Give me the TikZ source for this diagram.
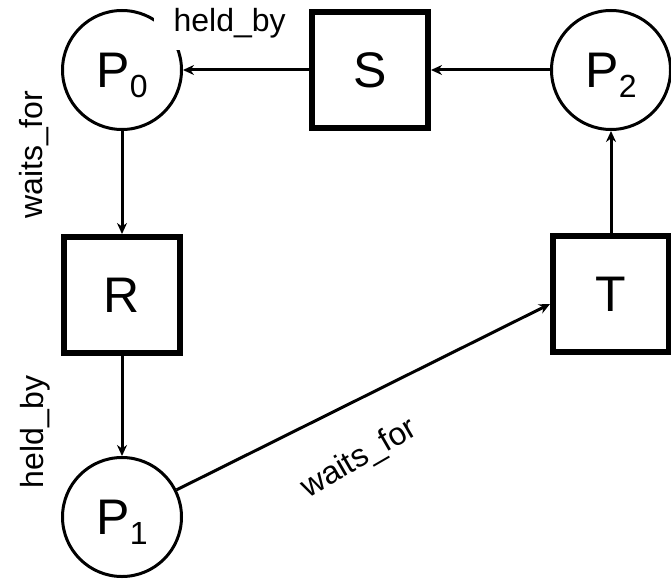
\documentclass[tikz,border=0pt]{standalone}
\usepackage{fontspec}
\setmainfont{Liberation Sans}
\usetikzlibrary{positioning, arrows.meta}

\newcommand{\procname}[1]{P\raisebox{-10pt}{\fontsize{32}{32}\selectfont #1}}

\begin{document}
\begin{tikzpicture}[
    process/.style={draw, circle, line width=3pt, minimum size=119pt, inner sep=0pt, font=\fontsize{50}{60}\selectfont, text depth=0pt},
    resource/.style={draw, rectangle, line width=6pt, minimum size=116pt, inner sep=0pt, font=\fontsize{50}{60}\selectfont, text depth=0pt},
    arr/.style={line width=3pt, -{Stealth[length=11pt, width=10pt]}},
    edgelabel/.style={font=\fontsize{32}{38}\selectfont}
]
    \useasboundingbox (0,0) rectangle (671pt,-580pt);
    \node (P0) [process] at (122pt,-70pt) {\procname{0}};
    \node (S) [resource, right=126pt of P0] {S};
    \node (P2) [process, right=119pt of S] {\procname{2}};
    \node (R) [resource, below=103pt of P0] {R};
    \node (P1) [process, below=100pt of R] {\procname{1}};
    \node (T) [resource, below=102pt of P2] {T};
    \draw [arr] (S.west) -- (P0.east) node[pos=0.63, above=18pt, fill=white, inner xsep=20pt, inner ysep=12pt, edgelabel] {held\_by};
    \draw [arr] (P2.west) -- (S.east);
    \draw [arr] (P0.south) -- (R.north) node[pos=0.23, xshift=-88pt, rotate=90, edgelabel] {waits\_for};
    \draw [arr] (R.south) -- (P1.north) node[pos=0.76, xshift=-87pt, rotate=90, edgelabel] {held\_by};
    \draw [arr] (P1) -- ([yshift=-10pt]T.west) node[pos=0.49, yshift=-60pt, rotate=30, edgelabel] {waits\_for};
    \draw [arr] (T.north) -- (P2.south);
\end{tikzpicture}
\end{document}
